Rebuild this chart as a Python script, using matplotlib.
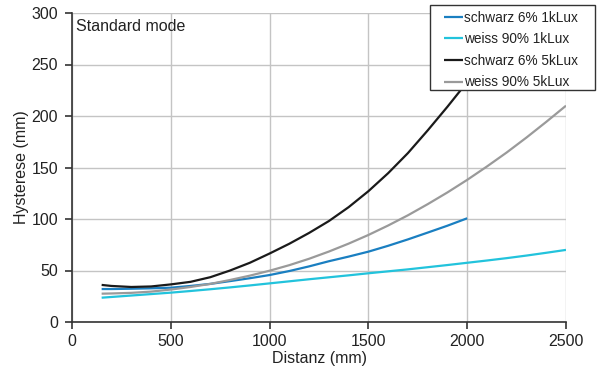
import matplotlib
matplotlib.use("Agg")
import matplotlib.pyplot as plt
from matplotlib.patches import Rectangle

plt.rcParams['font.family'] = ['Liberation Sans', 'DejaVu Sans']

# Distance (mm) sample points
x_1k = [150, 200, 300, 400, 500, 600, 700, 800, 900, 1000, 1100, 1200, 1300,
        1400, 1500, 1600, 1700, 1800, 1900, 2000]
x_2500 = x_1k + [2100, 2200, 2300, 2400, 2500]

schwarz_1k = [32, 32, 32.3, 32.7, 33.3, 35, 37, 39.7, 42.5, 45.6, 49.5, 54, 59,
              63.5, 68.3, 74, 80.2, 86.8, 93.5, 100.7]
weiss_1k = [23.6, 24.3, 25.7, 27.1, 28.5, 30.1, 31.8, 33.6, 35.5, 37.5, 39.5,
            41.5, 43.4, 45.3, 47.3, 49.2, 51.1, 53.2, 55.3, 57.5, 59.7, 62,
            64.5, 67.2, 70]
schwarz_5k = [36, 35, 34, 34.5, 36.5, 39, 43.5, 50, 57.5, 66.5, 76, 86.5, 98,
              111.5, 127, 144.5, 164, 186, 209, 233]
weiss_5k = [27.5, 27.7, 28.3, 29.5, 31.5, 34, 37, 40.8, 45, 49.8, 55.2, 61.4,
            68.4, 76.1, 84.5, 93.7, 103.6, 114.4, 125.8, 138, 151, 164.6,
            179.1, 194.3, 210]

labels = ["schwarz 6% 1kLux", "weiss 90% 1kLux", "schwarz 6% 5kLux", "weiss 90% 5kLux"]
colors = ["#1a7fc1", "#22c3dc", "#1a1a1a", "#9a9a9a"]

xticks = [0, 500, 1000, 1500, 2000, 2500]
yticks = [0, 50, 100, 150, 200, 250, 300]

W, H = 600, 390
fig = plt.figure(figsize=(6, 3.9), dpi=100)
ax = fig.add_axes([72 / W, 1 - 322 / H, 494 / W, 309 / H])

series = [(x_1k, schwarz_1k), (x_2500, weiss_1k), (x_1k, schwarz_5k), (x_2500, weiss_5k)]
handles = []
for (xs, ys), lab, c in zip(series, labels, colors):
    h, = ax.plot(xs, ys, color=c, lw=1.6, label=lab, solid_capstyle='butt')
    handles.append(h)

ax.set_xlim(0, 2500)
ax.set_ylim(0, 300)
ax.set_xticks(xticks)
ax.set_yticks(yticks)
ax.grid(True, color="#c4c4c4", lw=1.0)
ax.set_axisbelow(True)
for s in ['top', 'right']:
    ax.spines[s].set_visible(False)
for s in ['left', 'bottom']:
    ax.spines[s].set_color("#333333")
    ax.spines[s].set_linewidth(1.2)
ax.tick_params(direction='out', length=5, width=1.2, color="#333333",
               labelsize=11.5, labelcolor="#222222", pad=5)
ax.tick_params(axis='x', pad=3.5)
ax.set_xlabel("Distanz (mm)", fontsize=11.5, color="#222222", labelpad=1.5)
ax.set_ylabel("Hysterese (mm)", fontsize=11.5, color="#222222", labelpad=2)

ax.text(0.008, 0.982, "Standard mode", transform=ax.transAxes, ha='left', va='top',
        fontsize=11.5, color="#222222")

# legend box (drawn in figure pixels) above the lines
box = Rectangle((430 / W, 1 - 90 / H), 165 / W, 85 / H, transform=fig.transFigure,
                facecolor='white', edgecolor='#333333', lw=1.0, zorder=5)
fig.patches.append(box)

leg = fig.legend(handles=handles, loc='upper left', bbox_to_anchor=(444 / W, 1 - 10.5 / H),
                 fontsize=9.8, frameon=False, handlelength=1.4,
                 handletextpad=0.1, labelspacing=0.56, borderpad=0,
                 borderaxespad=0)
leg.set_zorder(6)
for t in leg.get_texts():
    t.set_color("#222222")

fig.savefig("out.png", dpi=100)
